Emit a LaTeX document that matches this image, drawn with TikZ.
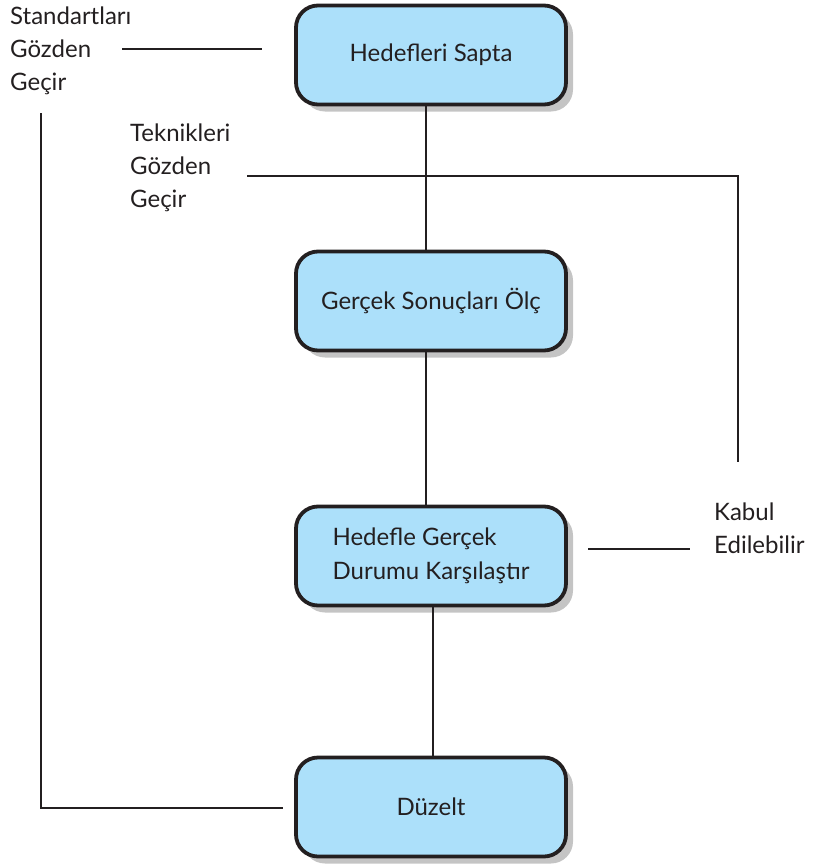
\documentclass[tikz,border=0pt]{standalone}
\usepackage{fontspec}
\setmainfont{Lato}
\usetikzlibrary{shadows}
\definecolor{boxfill}{HTML}{ACE0FA}
\definecolor{ink}{HTML}{231F20}
\definecolor{shade}{HTML}{C4C4C4}
\begin{document}
\begin{tikzpicture}[x=1pt,y=-1pt,
  stepbox/.style={draw=ink, line width=3.8pt, fill=boxfill, rounded corners=22pt,
    minimum width=270pt, minimum height=99pt, inner sep=0pt, align=left,
    font=\fontsize{24}{34}\selectfont, text=ink,
    drop shadow={shadow xshift=7pt, shadow yshift=-7pt, fill=shade, opacity=1}},
  note/.style={inner sep=0pt, align=left, anchor=west, text=ink,
    font=\fontsize{24}{33}\selectfont},
  link/.style={draw=ink, line width=1.1pt}]
\useasboundingbox (0,0) rectangle (815,867);

% process boxes
\node[stepbox] (fix)  at (431,55)  {Hedefleri Sapta};
\node[stepbox] (meas) at (431,301) {Gerçek Sonuçları Ölç};
\node[stepbox] (comp) at (431,556) {Hedefle Gerçek\\Durumu Karşılaştır};
\node[stepbox] (corr) at (431,807) {Düzelt};

% side notes
\node[note] (std) at (10,51)  {Standartları\\Gözden\\Geçir};
\node[note] (tek) at (130,168) {Teknikleri\\Gözden\\Geçir};
\node[note] (acc) at (714,528) {Kabul\\Edilebilir};

% main flow
\draw[link] ([xshift=-5pt]fix.south) -- ([xshift=-5pt]meas.north);
\draw[link] ([xshift=-5pt]meas.south) -- ([xshift=-5pt]comp.north);
\draw[link] ([xshift=2pt]comp.south) -- ([xshift=2pt]corr.north);

% feedback lines
\coordinate (s1) at (122,49);
\coordinate (s2) at (262,49);
\draw[link] (s1) -- (s2);

\coordinate (l1) at (41,113);
\coordinate (l2) at (41,808);
\coordinate (l3) at (283,808);
\draw[link] (l1) -- (l2) -- (l3);

\coordinate (t1) at (247,176);
\coordinate (t2) at (738,176);
\coordinate (t3) at (738,462);
\draw[link] (t1) -- (t2) -- (t3);

\coordinate (k1) at (588,549);
\coordinate (k2) at (690,549);
\draw[link] (k1) -- (k2);
\end{tikzpicture}
\end{document}
